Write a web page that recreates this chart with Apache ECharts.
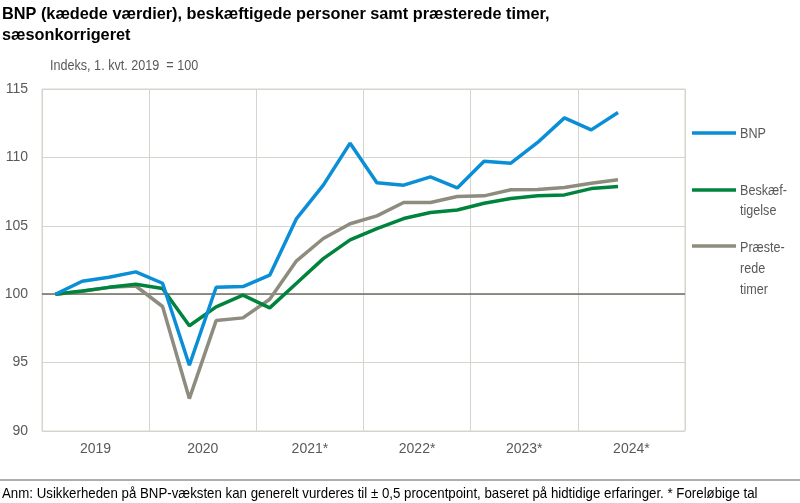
<!DOCTYPE html>
<html>
<head>
<meta charset="utf-8">
<script src="https://cdn.jsdelivr.net/npm/echarts@6/dist/echarts.min.js"></script>
<style>
html,body{margin:0;padding:0;background:#fff;}
#c{width:800px;height:503px;}
</style>
</head>
<body>
<div id="c"></div>
<script>
const quarters = ['2019K1','2019K2','2019K3','2019K4','2020K1','2020K2','2020K3','2020K4',
  '2021K1','2021K2','2021K3','2021K4','2022K1','2022K2','2022K3','2022K4',
  '2023K1','2023K2','2023K3','2023K4','2024K1','2024K2','2024K3','2024K4'];
const years = ['2019','2020','2021*','2022*','2023*','2024*'];
const bnp = [100,100.95,101.24,101.63,100.8,94.81,100.51,100.56,101.39,105.53,107.97,111.04,
  108.14,107.97,108.58,107.77,109.72,109.58,111.09,112.89,112.01,113.28];
const beskaeftigelse = [100,100.24,100.5,100.73,100.41,97.69,99.07,99.93,99.0,100.8,102.6,103.97,
  104.8,105.53,105.97,106.16,106.65,106.99,107.19,107.26,107.72,107.87];
const timer = [100,100.22,100.5,100.6,99.1,92.37,98.07,98.27,99.63,102.44,104.07,105.15,
  105.73,106.7,106.7,107.14,107.19,107.63,107.65,107.8,108.11,108.36];
const yTicks = {min:90, max:115, interval:5};
const names = ['BNP','Beskæf-\ntigelse','Præste-\nrede\ntimer'];

const C_BNP = '#0a8fd6', C_BES = '#00843d', C_TIM = '#8e8b7f';
const SANS = '"Liberation Sans",Arial,sans-serif';
const txt = '#595959';
const NX = 0.84;

const chart = echarts.init(document.getElementById('c'), null, {renderer:'canvas'});
const lineStyle = (c) => ({color:c, width:3.5});
chart.setOption({
  animation:false,
  backgroundColor:'#fff',
  grid:{left:42, right:115, top:89, bottom:72, show:true, borderColor:'#d6d4cd', borderWidth:1},
  xAxis:[
    {type:'category', data:quarters, boundaryGap:true, axisLine:{show:false}, axisTick:{show:false},
     axisLabel:{show:false}, splitLine:{show:false}},
    {type:'category', data:years, position:'bottom', boundaryGap:true,
     axisLine:{show:false}, axisTick:{show:false},
     axisLabel:{color:txt, fontSize:14, fontFamily:SANS, margin:11},
     splitLine:{show:true, lineStyle:{color:'#d6d4cd', width:1}}}
  ],
  yAxis:{type:'value', min:yTicks.min, max:yTicks.max, interval:yTicks.interval,
    axisLine:{show:false}, axisTick:{show:false},
    axisLabel:{color:txt, fontSize:14, fontFamily:SANS, margin:14},
    splitLine:{lineStyle:{color:'#d6d4cd', width:1}}},
  series:[
    {type:'line', name:'BNP', data:bnp, xAxisIndex:0, symbol:'none', lineStyle:lineStyle(C_BNP), color:C_BNP, z:5,
     markLine:{silent:true, symbol:'none', label:{show:false}, lineStyle:{color:'#6e6c62', width:1.5, type:'solid'},
       data:[{yAxis:100}], z:1}},
    {type:'line', name:'Beskæftigelse', data:beskaeftigelse, xAxisIndex:0, symbol:'none', lineStyle:lineStyle(C_BES), color:C_BES, z:4},
    {type:'line', name:'Præsterede timer', data:timer, xAxisIndex:0, symbol:'none', lineStyle:lineStyle(C_TIM), color:C_TIM, z:3}
  ],
  graphic:[
    {type:'text', x:2, y:4, style:{text:'BNP (kædede værdier), beskæftigede personer samt præsterede timer,\nsæsonkorrigeret',
      font:'bold 16.3px '+SANS, fill:'#000', lineHeight:21}},
    {type:'text', x:50, y:58, scaleX:NX, style:{text:'Indeks, 1. kvt. 2019  = 100', font:'15px '+SANS, fill:txt}},
    {type:'line', shape:{x1:0, y1:480, x2:800, y2:480}, style:{stroke:'#8f9590', lineWidth:1.5}},
    {type:'text', x:2, y:486, scaleX:0.885, style:{text:'Anm: Usikkerheden på BNP-væksten kan generelt vurderes til ± 0,5 procentpoint, baseret på hidtidige erfaringer. * Foreløbige tal',
      font:'15px '+SANS, fill:'#000'}},
    // legend
    {type:'line', shape:{x1:692, y1:133, x2:736, y2:133}, style:{stroke:C_BNP, lineWidth:3.5}},
    {type:'line', shape:{x1:692, y1:190, x2:736, y2:190}, style:{stroke:C_BES, lineWidth:3.5}},
    {type:'line', shape:{x1:692, y1:246, x2:736, y2:246}, style:{stroke:C_TIM, lineWidth:3.5}},
    {type:'text', x:740, y:124, scaleX:NX, style:{text:names[0], font:'15px '+SANS, fill:txt, lineHeight:20}},
    {type:'text', x:740, y:181, scaleX:NX, style:{text:names[1], font:'15px '+SANS, fill:txt, lineHeight:20}},
    {type:'text', x:740, y:237, scaleX:NX, style:{text:names[2], font:'15px '+SANS, fill:txt, lineHeight:21}}
  ]
});
</script>
</body>
</html>
